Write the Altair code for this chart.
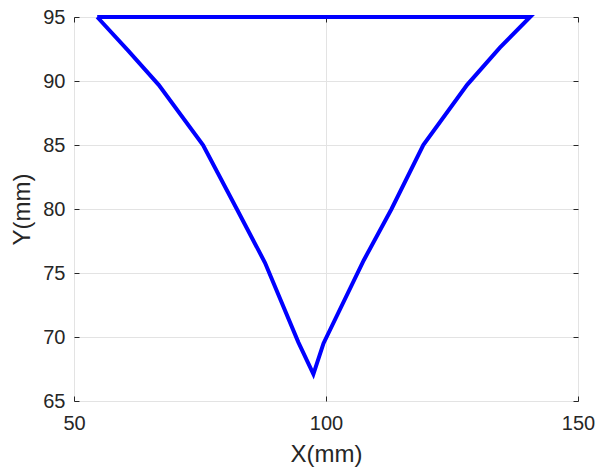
import altair as alt
import pandas as pd

# Closed contour traced counter-clockwise: left flank down to the tip,
# right flank back up, then straight across the top edge.
xs = [54.6, 60.7, 66.8, 75.6, 82.3, 87.9, 94.5, 97.5,
      99.5, 107.5, 113.0, 119.3, 128.0, 134.5, 140.5, 54.6]
ys = [95.0, 92.4, 89.7, 85.0, 80.0, 75.8, 69.6, 67.1,
      69.5, 76.0, 80.0, 85.0, 89.7, 92.6, 95.0, 95.0]

x_ticks = [50, 100, 150]
y_ticks = [65, 70, 75, 80, 85, 90, 95]

W, H = 504, 384
FONT = "Liberation Sans"
INK = "#262626"

df = pd.DataFrame({"x": xs, "y": ys, "i": list(range(len(xs)))})

xscale = alt.Scale(domain=[50, 150], nice=False, zero=False)
yscale = alt.Scale(domain=[65, 95], nice=False, zero=False)

base = alt.Chart(df)

# Labelled axes with grid
main = base.mark_line(color="#0000FF", strokeWidth=4).encode(
    x=alt.X("x:Q", scale=xscale, axis=alt.Axis(
        orient="bottom", values=x_ticks, title="X(mm)", ticks=False,
        domain=False, grid=True, gridColor="#e3e3e3", gridWidth=1,
        labelFont=FONT, labelFontSize=20, labelColor=INK, labelPadding=12,
        titleFont=FONT, titleFontSize=24, titleFontWeight="normal",
        titleColor=INK, titlePadding=9, labelFlush=False)),
    y=alt.Y("y:Q", scale=yscale, axis=alt.Axis(
        orient="left", values=y_ticks, title="Y(mm)", ticks=False,
        domain=False, grid=True, gridColor="#e3e3e3", gridWidth=1,
        labelFont=FONT, labelFontSize=20, labelColor=INK, labelPadding=9,
        titleFont=FONT, titleFontSize=24, titleFontWeight="normal",
        titleColor=INK, titlePadding=8, labelFlush=False)),
    order="i:Q",
)


def tick_axis(orient, offset, values):
    return alt.Axis(orient=orient, offset=offset, values=values, labels=False,
                    title=None, domain=False, grid=False, ticks=True,
                    tickSize=5, tickColor=INK, tickWidth=1)


# Inward ticks on bottom and left edges
ticks_a = base.mark_line(opacity=0).encode(
    x=alt.X("x:Q", scale=xscale, axis=tick_axis("top", -H, x_ticks)),
    y=alt.Y("y:Q", scale=yscale, axis=tick_axis("right", -W, y_ticks)),
    order="i:Q",
)

# Inward ticks on top and right edges
ticks_b = base.mark_line(opacity=0).encode(
    x=alt.X("x:Q", scale=xscale, axis=tick_axis("bottom", -H, x_ticks)),
    y=alt.Y("y:Q", scale=yscale, axis=tick_axis("left", -W, y_ticks)),
    order="i:Q",
)

chart = alt.layer(ticks_a, ticks_b, main).resolve_axis(
    x="independent", y="independent"
).properties(
    width=W, height=H,
    autosize=alt.AutoSizeParams(type="none"),
    padding={"left": 74, "top": 17, "right": 29, "bottom": 67},
).configure_view(
    stroke=INK, strokeWidth=1
).configure(background="white")

chart.save("out.html", embed_options={"renderer": "svg", "actions": False})
